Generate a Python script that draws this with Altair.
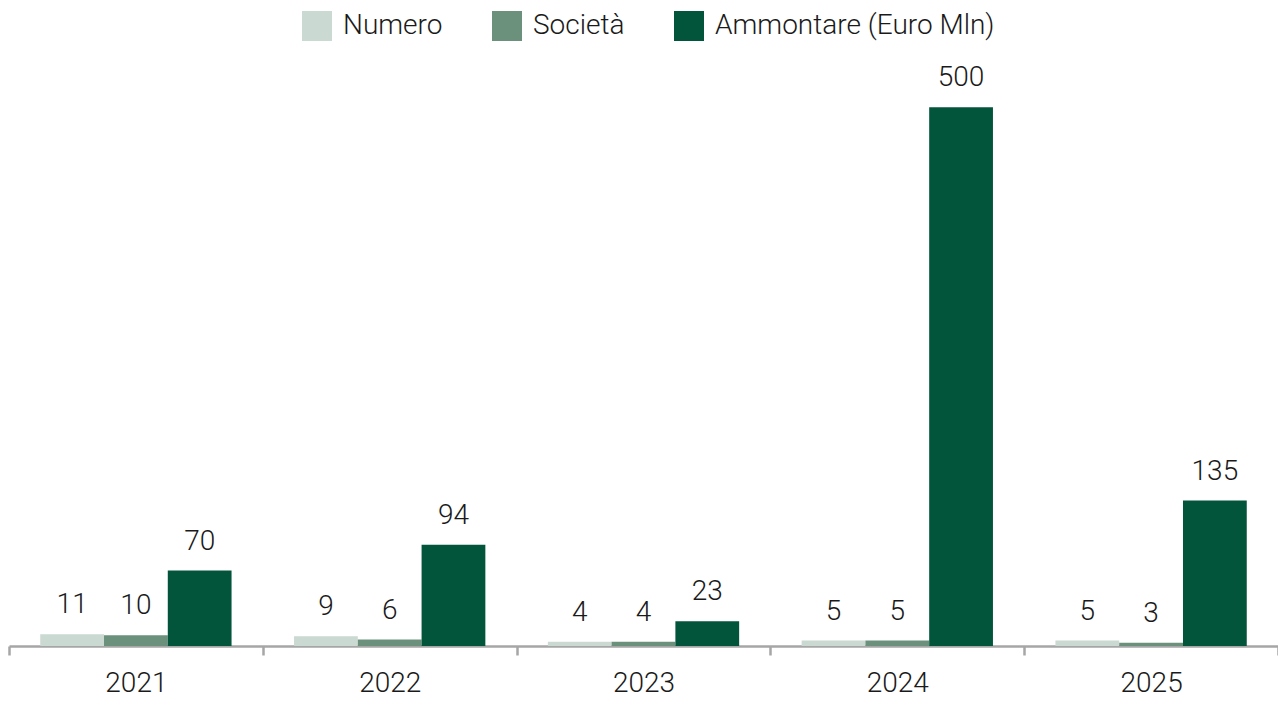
import altair as alt
import pandas as pd

years = ["2021", "2022", "2023", "2024", "2025"]
series = ["Numero", "Società", "Ammontare (Euro Mln)"]
numero = [11, 9, 4, 5, 5]
societa = [10, 6, 4, 5, 3]
ammontare = [70, 94, 23, 500, 135]
colors = ["#cad9d1", "#6b917d", "#02553b"]

rows = []
for i, y in enumerate(years):
    for s, vals in zip(series, [numero, societa, ammontare]):
        rows.append({"Anno": y, "Serie": s, "Valore": vals[i]})
df = pd.DataFrame(rows)

FONT = "Roboto"
TXT = "#1a1a1a"
FS = 28

x = alt.X("Anno:N", sort=years, title=None,
          scale=alt.Scale(paddingInner=0, paddingOuter=0),
          axis=alt.Axis(labelAngle=0, labelFontSize=FS, labelColor=TXT, labelFont=FONT,
                        labelFontWeight=300, labelBaseline="alphabetic",
                        domainColor="#a6a6a6", domainWidth=2.5, tickColor="#a6a6a6",
                        tickWidth=2.5, tickSize=9, tickBand="extent", labelPadding=36,
                        grid=False))
xo = alt.XOffset("Serie:N", sort=series,
                 scale=alt.Scale(paddingOuter=0.49, paddingInner=0))
y = alt.Y("Valore:Q", axis=None, scale=alt.Scale(domain=[0, 592], nice=False))
color = alt.Color("Serie:N", sort=series,
                  scale=alt.Scale(domain=series, range=colors),
                  legend=alt.Legend(title=None, orient="none", direction="horizontal",
                                    legendX=293, legendY=3, symbolType="square",
                                    symbolSize=900, symbolStrokeWidth=0,
                                    labelFontSize=FS, labelFont=FONT, labelColor=TXT,
                                    labelFontWeight=300, labelLimit=0,
                                    labelOffset=11, columnPadding=49, symbolOpacity=1))

bars = alt.Chart(df).mark_bar(opacity=1).encode(x=x, xOffset=xo, y=y, color=color)
labels = alt.Chart(df).mark_text(dy=-21, baseline="alphabetic", fontSize=FS, font=FONT,
                                 fontWeight=300, color=TXT).encode(
    x=alt.X("Anno:N", sort=years), xOffset=alt.XOffset("Serie:N", sort=series),
    y=alt.Y("Valore:Q"), text=alt.Text("Valore:Q"))

chart = (bars + labels).properties(
    width=1269, height=638,
    autosize=alt.AutoSizeParams(type="none"),
    padding={"left": 1, "top": 0, "right": 0, "bottom": 52},
).configure_view(stroke=None)

chart.save("out.html", embed_options={"renderer": "svg", "actions": False})
